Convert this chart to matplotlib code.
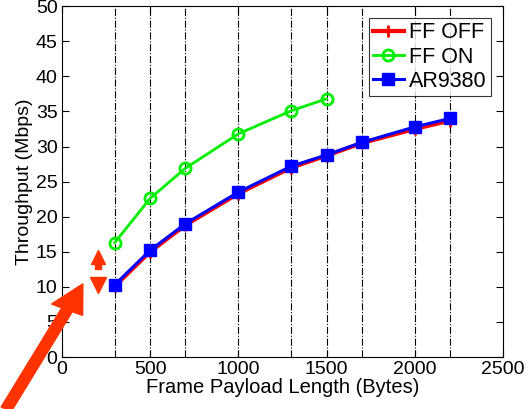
import numpy as np
import matplotlib.pyplot as plt
from matplotlib.patches import FancyArrow

plt.rcParams['font.family'] = ['Liberation Sans', 'DejaVu Sans']

lengths = [300, 500, 700, 1000, 1300, 1500, 1700, 2000, 2200]
ff_off = [10.1, 15.0, 18.8, 23.3, 27.0, 28.7, 30.5, 32.5, 33.7]
ar9380 = [10.3, 15.2, 19.0, 23.5, 27.2, 28.8, 30.6, 32.8, 34.0]
ff_on_len = [300, 500, 700, 1000, 1300, 1500]
ff_on = [16.3, 22.6, 26.9, 31.8, 35.1, 36.8]

fig = plt.figure(figsize=(5.28, 4.09), dpi=100)
ax = fig.add_axes([0.117, 0.127, 0.836, 0.858])

for x in lengths:
    ax.plot([x, x], [0, 50], color='black', ls='-.', lw=0.8, zorder=1)

ax.plot(lengths, ff_off, color='red', lw=3, marker='+', ms=9, mew=2, label='FF OFF', zorder=3)
ax.plot(ff_on_len, ff_on, color='#00ee00', lw=2, marker='o', ms=8, mfc='none', mew=2, label='FF ON', zorder=3)
ax.plot(lengths, ar9380, color='blue', lw=2.2, marker='s', ms=8, label='AR9380', zorder=4)

ax.set_xlim(0, 2500)
ax.set_ylim(0, 50)
ax.set_xticks(np.arange(0, 2501, 500))
ax.set_yticks(np.arange(0, 51, 5))
ax.tick_params(direction='in', top=True, right=True, labelsize=14, length=5, pad=3)
ax.set_xlabel('Frame Payload Length (Bytes)', fontsize=14.5, labelpad=0)
ax.set_ylabel('Throughput (Mbps)', fontsize=14, labelpad=2)

leg = ax.legend(loc='upper right', fontsize=15.5, fancybox=False, edgecolor='black',
                handlelength=1.45, handletextpad=0.25, borderaxespad=0.55, labelspacing=0.15,
                borderpad=0.2)
leg.get_frame().set_linewidth(0.8)

# red up/down arrows
ax.plot([204], [14.3], marker='^', color='#ff3300', ms=10, clip_on=False)
ax.plot([204], [13.0], marker='s', color='#ff3300', ms=4, clip_on=False)
ax.plot([204], [10.3], marker='v', color='#ff3300', ms=12, clip_on=False)

# big red arrow from the corner
fig.patches.append(FancyArrow(0.012, 0.0, 0.145, 0.306, width=0.022, head_width=0.065,
                              head_length=0.07, color='#ff3300', transform=fig.transFigure,
                              length_includes_head=True))

fig.savefig('out.png', dpi=100)
